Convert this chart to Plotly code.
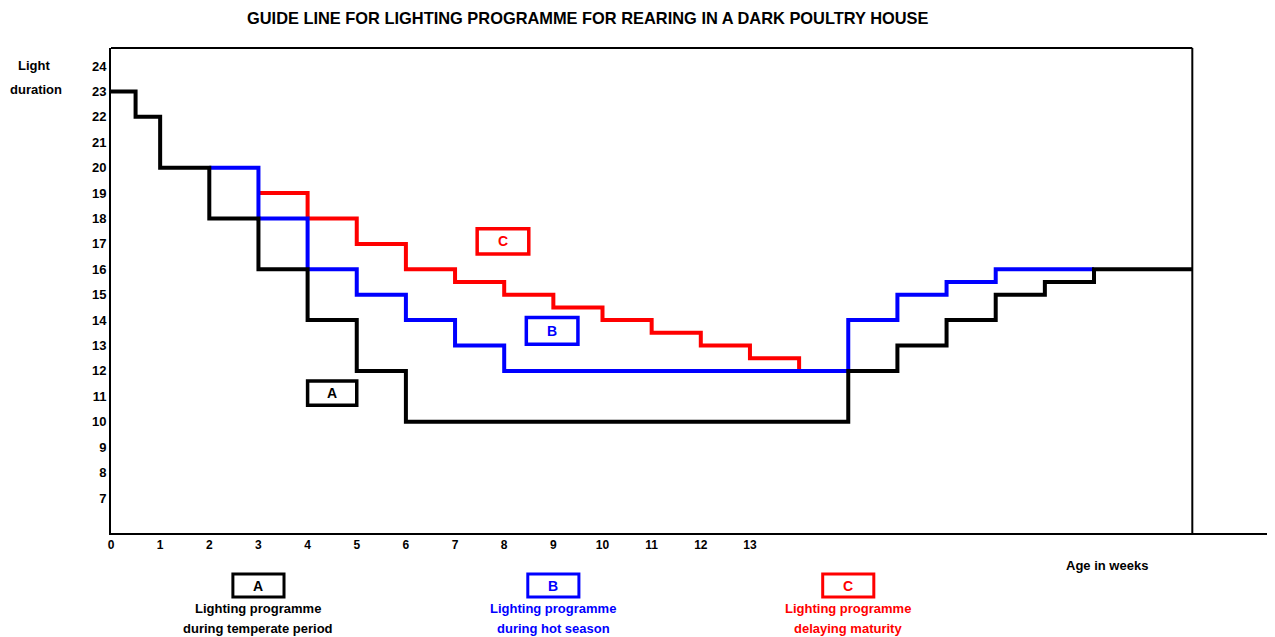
import plotly.graph_objects as go

# step programmes: week at which each level starts, light hours from that week
weeks_a = [0, 0.5, 1, 2, 3, 4, 5, 6, 15, 16, 17, 18, 19, 20, 22]
hours_a = [23, 22, 20, 18, 16, 14, 12, 10, 12, 13, 14, 15, 15.5, 16, 16]

weeks_b = [2, 3, 4, 5, 6, 7, 8, 15, 16, 17, 18, 20]
hours_b = [20, 18, 16, 15, 14, 13, 12, 14, 15, 15.5, 16, 16]

weeks_c = [3, 4, 5, 6, 7, 8, 9, 10, 11, 12, 13, 14]
hours_c = [19, 18, 17, 16, 15.5, 15, 14.5, 14, 13.5, 13, 12.5, 12]

x_ticks = list(range(0, 14))
y_ticks = list(range(7, 25))

labels = ["A", "B", "C"]
colors = ["black", "blue", "red"]
legend_line1 = ["Lighting programme"] * 3
legend_line2 = ["during temperate period", "during hot season", "delaying maturity"]

FONT = "Liberation Sans, Arial, sans-serif"

# page has an 8px body margin, so the figure is a bit smaller than the window
W, H = 1267, 629
L, R, T, B = 103, 7, 40, 104
# plot area in screen pixels (used to place free texts)
PX0, PX1, PY0, PY1 = 111, 1268, 48, 533


def px(x):
    return (x - PX0) / (PX1 - PX0)


def py(y):
    return (PY1 - y) / (PY1 - PY0)


def text(x, y, s, size, color="black", xref="paper", yref="paper"):
    return dict(x=x, y=y, xref=xref, yref=yref, text="<b>%s</b>" % s, showarrow=False,
                xanchor="center", yanchor="middle", font=dict(family=FONT, size=size, color=color))


fig = go.Figure()
for wk, hr, col in [(weeks_c, hours_c, "red"), (weeks_b, hours_b, "blue"), (weeks_a, hours_a, "black")]:
    fig.add_trace(go.Scatter(x=wk, y=hr, mode="lines", line=dict(color=col, width=4, shape="hv"),
                             hoverinfo="skip", showlegend=False))

shapes = []
annotations = []

# frame: top and right edge stop at week 22, bottom axis runs further
shapes.append(dict(type="line", xref="x", yref="paper", x0=0, x1=22, y0=1, y1=1,
                   line=dict(color="black", width=2)))
shapes.append(dict(type="line", xref="x", yref="paper", x0=22, x1=22, y0=0, y1=1,
                   line=dict(color="black", width=2)))

# labelled boxes inside the plot
inbox = {"A": (4, 5, 10.65, 11.6), "B": (8.45, 9.5, 13.05, 14.1), "C": (7.45, 8.5, 16.6, 17.6)}
for lab, col in zip(labels, colors):
    x0, x1, y0, y1 = inbox[lab]
    shapes.append(dict(type="rect", xref="x", yref="y", x0=x0, x1=x1, y0=y0, y1=y1,
                       line=dict(color=col, width=3.5)))
    annotations.append(text((x0 + x1) / 2, (y0 + y1) / 2, lab, 14, col, "x", "y"))

# legend under the axis
for i, (lab, col) in enumerate(zip(labels, colors)):
    cx = 3 + 6 * i
    shapes.append(dict(type="rect", xref="x", yref="paper", x0=cx - 0.52, x1=cx + 0.52,
                       y0=py(597), y1=py(574), line=dict(color=col, width=3)))
    annotations.append(text(cx, py(586), lab, 14, col, "x"))
    annotations.append(text(cx, py(608), legend_line1[i], 13, col, "x"))
    annotations.append(text(cx, py(628), legend_line2[i], 13, col, "x"))

annotations.append(text(px(34), py(66), "Light", 13))
annotations.append(text(px(36), py(89), "duration", 13))
annotations.append(text(px(1107), py(565), "Age in weeks", 13))
annotations.append(text(px(588), py(18),
                        "GUIDE LINE FOR LIGHTING PROGRAMME FOR REARING IN A DARK POULTRY HOUSE", 16.4))

fig.update_layout(
    width=W, height=H,
    margin=dict(l=L, r=R, t=T, b=B),
    paper_bgcolor="white", plot_bgcolor="white",
    shapes=shapes, annotations=annotations,
    font=dict(family=FONT, color="black"),
    xaxis=dict(range=[0, 23.54], tickvals=x_ticks, ticktext=["<b>%d</b>" % v for v in x_ticks],
               showgrid=False, zeroline=False, showline=True, linecolor="black", linewidth=2,
               ticks="", tickfont=dict(size=12)),
    yaxis=dict(range=[5.62, 24.71], tickvals=y_ticks, ticktext=["<b>%d</b>" % v for v in y_ticks],
               showgrid=False, zeroline=False, showline=True, linecolor="black", linewidth=2,
               ticks="", tickfont=dict(size=13)),
)

fig.write_html("out.html")
